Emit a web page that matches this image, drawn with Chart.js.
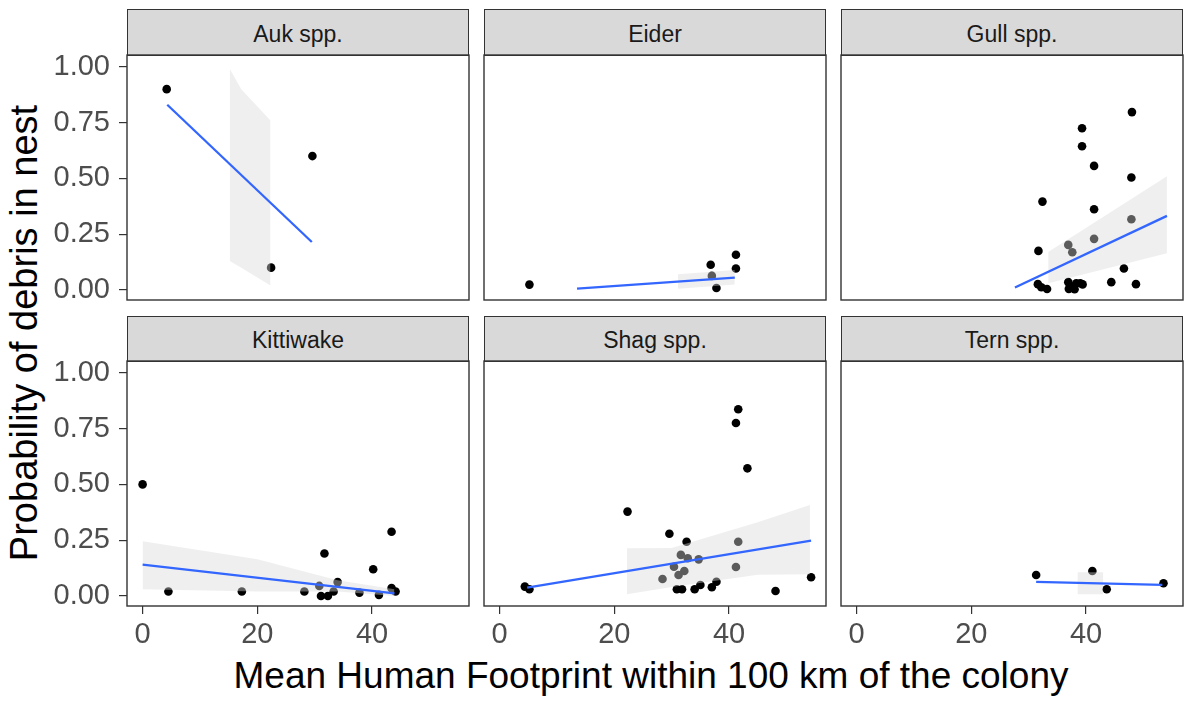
<!DOCTYPE html>
<html>
<head>
<meta charset="utf-8">
<script src="https://cdn.jsdelivr.net/npm/chart.js@4/dist/chart.umd.min.js"></script>
<style>
html,body{margin:0;padding:0;background:#fff;width:1184px;height:702px;overflow:hidden;font-family:"Liberation Sans",Arial,sans-serif}
.strip{position:absolute;box-sizing:border-box;background:#d9d9d9;border:1.4px solid #333;display:flex;align-items:center;justify-content:center;font-size:23px;color:#1a1a1a;padding-top:3px}
canvas{position:absolute}
.title{position:absolute;white-space:nowrap;line-height:1;color:#000}
#xtitle{left:651px;top:657px;transform:translateX(-50%);font-size:37px}
#ytitle{left:24px;top:333px;transform:translate(-50%,-50%) rotate(-90deg);font-size:38px}
</style>
</head>
<body>
<div id="xtitle" class="title">Mean Human Footprint within 100 km of the colony</div>
<div id="ytitle" class="title">Probability of debris in nest</div>
<script>
// ---------- data ----------
const panelNames = ['Auk spp.', 'Eider', 'Gull spp.', 'Kittiwake', 'Shag spp.', 'Tern spp.'];
const xTicks = [0, 20, 40];
const yTicks = [0, 0.25, 0.5, 0.75, 1];
const yTickLabels = ['0.00', '0.25', '0.50', '0.75', '1.00'];
const xMin = -2.72, xMax = 56.9, yMin = -0.045, yMax = 1.053;

// Auk spp.
const aukX = [4.2, 29.6, 22.4];
const aukY = [0.90, 0.60, 0.10];
const aukFitX = [4.3, 29.5];
const aukFitY = [0.83, 0.215];
const aukBandX = [15.2, 17.2, 22.3];
const aukBandLo = [0.13, 0.10, 0.02];
const aukBandHi = [0.99, 0.90, 0.76];

// Eider
const eiderX = [5.2, 36.8, 37.0, 37.8, 41.2, 41.2];
const eiderY = [0.024, 0.113, 0.063, 0.009, 0.158, 0.096];
const eiderFitX = [13.5, 41.0];
const eiderFitY = [0.006, 0.055];
const eiderBandX = [31.1, 41.0];
const eiderBandLo = [0.005, 0.025];
const eiderBandHi = [0.07, 0.09];

// Gull spp.
const gullX = [48.0, 39.3, 39.3, 41.4, 47.9, 32.4, 41.4, 47.9, 41.4, 36.9, 37.6, 31.7, 46.6, 44.4, 48.7, 31.6, 32.2, 33.2, 36.9, 37.0, 37.6, 38.3, 38.0, 39.0, 39.4];
const gullY = [0.797, 0.725, 0.644, 0.556, 0.504, 0.396, 0.362, 0.317, 0.229, 0.202, 0.169, 0.175, 0.096, 0.035, 0.026, 0.026, 0.012, 0.004, 0.035, 0.005, 0.015, 0.03, 0.003, 0.03, 0.025];
const gullFitX = [27.6, 54.1];
const gullFitY = [0.011, 0.332];
const gullBandX = [33.4, 54.1];
const gullBandLo = [0.03, 0.164];
const gullBandHi = [0.17, 0.51];

// Kittiwake
const kittX = [0, 4.5, 17.3, 28.2, 31.7, 31.1, 32.3, 30.8, 34.0, 33.3, 37.8, 40.2, 41.2, 43.4, 43.4, 44.1];
const kittY = [0.50, 0.02, 0.02, 0.02, 0.19, 0.0, 0.0, 0.045, 0.062, 0.02, 0.015, 0.12, 0.005, 0.288, 0.035, 0.02];
const kittFitX = [0, 43.9];
const kittFitY = [0.14, 0.012];
const kittBandX = [0, 20, 34, 43.9];
const kittBandLo = [0.03, 0.02, 0.02, 0.0];
const kittBandHi = [0.245, 0.165, 0.07, 0.03];

// Shag spp.
const shagX = [41.6, 41.2, 43.2, 22.3, 29.6, 32.6, 41.6, 31.6, 32.8, 34.7, 30.4, 32.2, 41.2, 31.2, 28.4, 4.4, 5.2, 30.9, 31.8, 34.0, 35.0, 37.0, 37.8, 48.1, 54.3];
const shagY = [0.837, 0.775, 0.572, 0.378, 0.279, 0.243, 0.243, 0.184, 0.169, 0.164, 0.131, 0.112, 0.13, 0.094, 0.076, 0.042, 0.03, 0.03, 0.03, 0.03, 0.049, 0.039, 0.064, 0.022, 0.084];
const shagFitX = [4.8, 54.3];
const shagFitY = [0.037, 0.248];
const shagBandX = [22.2, 30, 45, 54.1];
const shagBandLo = [0.008, 0.04, 0.095, 0.097];
const shagBandHi = [0.214, 0.215, 0.33, 0.408];

// Tern spp.
const ternX = [31.3, 41.1, 43.6, 53.5];
const ternY = [0.094, 0.112, 0.03, 0.057];
const ternFitX = [31.3, 53.3];
const ternFitY = [0.063, 0.05];
const ternBandX = [38.5, 43.0];
const ternBandLo = [0.008, 0.008];
const ternBandHi = [0.106, 0.106];

const panels = [
  [aukX, aukY, aukFitX, aukFitY, aukBandX, aukBandLo, aukBandHi],
  [eiderX, eiderY, eiderFitX, eiderFitY, eiderBandX, eiderBandLo, eiderBandHi],
  [gullX, gullY, gullFitX, gullFitY, gullBandX, gullBandLo, gullBandHi],
  [kittX, kittY, kittFitX, kittFitY, kittBandX, kittBandLo, kittBandHi],
  [shagX, shagY, shagFitX, shagFitY, shagBandX, shagBandLo, shagBandHi],
  [ternX, ternY, ternFitX, ternFitY, ternBandX, ternBandLo, ternBandHi]
];

// ---------- layout ----------
const M = 40, YW = 100, XH = 64;
const colLeft = [127, 484, 841], rowTop = [55, 361], PW = 342, PH = 245;
const stripTop = [9, 316];
const FONT = '"Liberation Sans", Arial, sans-serif';

const zip = (xs, ys) => xs.map((x, i) => ({x: x, y: ys[i]}));

const borderPlugin = {
  id: 'panelBorder',
  afterDraw(chart) {
    const a = chart.chartArea, ctx = chart.ctx;
    ctx.save();
    ctx.strokeStyle = '#333333';
    ctx.lineWidth = 1.4;
    ctx.strokeRect(a.left, a.top, a.right - a.left, a.bottom - a.top);
    ctx.restore();
  }
};

panels.forEach((p, i) => {
  const [px, py, fx, fy, bx, blo, bhi] = p;
  const col = i % 3, row = Math.floor(i / 3);
  const showY = col === 0, showX = row === 1;
  const cw = PW + 2 * M + (showY ? YW : 0);
  const ch = PH + 2 * M + (showX ? XH : 0);
  const left = colLeft[col] - M - (showY ? YW : 0);
  const top = rowTop[row] - M;

  const strip = document.createElement('div');
  strip.className = 'strip';
  strip.style.left = colLeft[col] + 'px';
  strip.style.top = stripTop[row] + 'px';
  strip.style.width = PW + 'px';
  strip.style.height = (rowTop[row] - stripTop[row] + 1) + 'px';
  strip.textContent = panelNames[i];
  document.body.appendChild(strip);

  const canvas = document.createElement('canvas');
  canvas.width = cw; canvas.height = ch;
  canvas.style.left = left + 'px'; canvas.style.top = top + 'px';
  canvas.style.width = cw + 'px'; canvas.style.height = ch + 'px';
  document.body.appendChild(canvas);

  new Chart(canvas, {
    type: 'scatter',
    data: {
      datasets: [
        { type: 'line', data: zip(fx, fy), borderColor: '#3366FF', borderWidth: 2.3, pointRadius: 0, fill: false, tension: 0 },
        { type: 'line', data: zip(bx, bhi), borderWidth: 0, pointRadius: 0, fill: '+1', backgroundColor: 'rgba(217,217,217,0.42)', tension: 0 },
        { type: 'line', data: zip(bx, blo), borderWidth: 0, pointRadius: 0, fill: false, tension: 0 },
        { data: zip(px, py), backgroundColor: '#000000', borderWidth: 0, pointRadius: 4.3 }
      ]
    },
    options: {
      responsive: false,
      animation: false,
      devicePixelRatio: 1,
      events: [],
      layout: { padding: M },
      plugins: { legend: { display: false }, tooltip: { enabled: false } },
      scales: {
        x: {
          type: 'linear', min: xMin, max: xMax, display: showX,
          afterBuildTicks: s => { s.ticks = xTicks.map(v => ({value: v})); },
          afterFit: s => { if (showX) s.height = XH; },
          grid: { drawOnChartArea: false, drawTicks: true, tickLength: 8, color: '#333333', lineWidth: 1.2 },
          border: { display: false },
          ticks: { padding: 4, color: '#4d4d4d', font: { family: FONT, size: 29 }, maxRotation: 0, autoSkip: false }
        },
        y: {
          type: 'linear', min: yMin, max: yMax, display: showY,
          afterBuildTicks: s => { s.ticks = yTicks.map(v => ({value: v})); },
          afterFit: s => { if (showY) s.width = YW; },
          grid: { drawOnChartArea: false, drawTicks: true, tickLength: 8, color: '#333333', lineWidth: 1.2 },
          border: { display: false },
          ticks: { padding: 9, color: '#4d4d4d', font: { family: FONT, size: 29 }, autoSkip: false,
            callback: v => yTickLabels[yTicks.indexOf(v)] }
        }
      }
    },
    plugins: [borderPlugin]
  });
});
</script>
</body>
</html>
